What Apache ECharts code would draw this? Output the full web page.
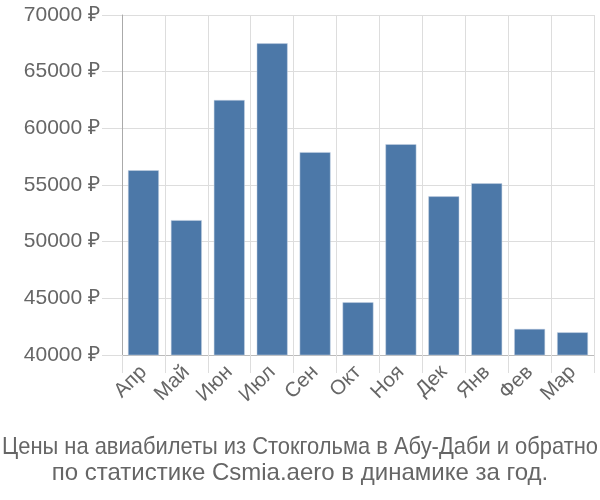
<!DOCTYPE html>
<html><head><meta charset="utf-8">
<script src="https://cdn.jsdelivr.net/npm/echarts@6/dist/echarts.min.js"></script>
<style>html,body{margin:0;padding:0;background:#fff}#c{width:600px;height:500px}</style>
</head><body><div id="c"></div>
<script>
const categories = ['Апр','Май','Июн','Июл','Сен','Окт','Ноя','Дек','Янв','Фев','Мар'];
const prices = [56300, 51900, 62500, 67500, 57900, 44650, 58600, 54000, 55150, 42300, 42000];
const titleLines = ['Цены на авиабилеты из Стокгольма в Абу-Даби и обратно', 'по статистике Csmia.aero в динамике за год.'];
const titleFont = '24px "Liberation Sans"';
const ctx = document.createElement('canvas').getContext('2d');
ctx.font = titleFont;
const fitScale = t => Math.min(1, 596 / ctx.measureText(t).width);
const chart = echarts.init(document.getElementById('c'));
chart.setOption({
  animation: false,
  textStyle: {fontFamily: 'Liberation Sans'},
  graphic: titleLines.map((t, i) => ({
    type: 'text', x: 300, y: 447 + i * 26, scaleX: fitScale(t),
    style: {text: t, font: titleFont, fill: '#666', align: 'center', verticalAlign: 'middle'}
  })),
  grid: {left: 122, right: 6, top: 15, bottom: 145},
  xAxis: {
    type: 'category', data: categories,
    axisLine: {lineStyle: {color: '#bbb', width: 1}},
    axisTick: {show: true, length: 18, lineStyle: {color: '#ddd'}},
    splitLine: {show: true, lineStyle: {color: '#ddd'}},
    axisLabel: {rotate: 45, fontSize: 20.5, color: '#666', margin: 14}
  },
  yAxis: {
    type: 'value', min: 40000, max: 70000, interval: 5000,
    axisLine: {show: true, lineStyle: {color: '#aaa'}},
    axisTick: {show: true, length: 20, lineStyle: {color: '#ddd'}},
    splitLine: {lineStyle: {color: '#ddd'}},
    axisLabel: {fontSize: 21, color: '#666', margin: 22, formatter: v => v + ' ₽'}
  },
  series: [{
    type: 'bar', data: prices, barCategoryGap: '28%',
    itemStyle: {color: '#4c78a8', borderColor: '#c8d4e4', borderWidth: 0.5}
  }]
});
</script></body></html>
